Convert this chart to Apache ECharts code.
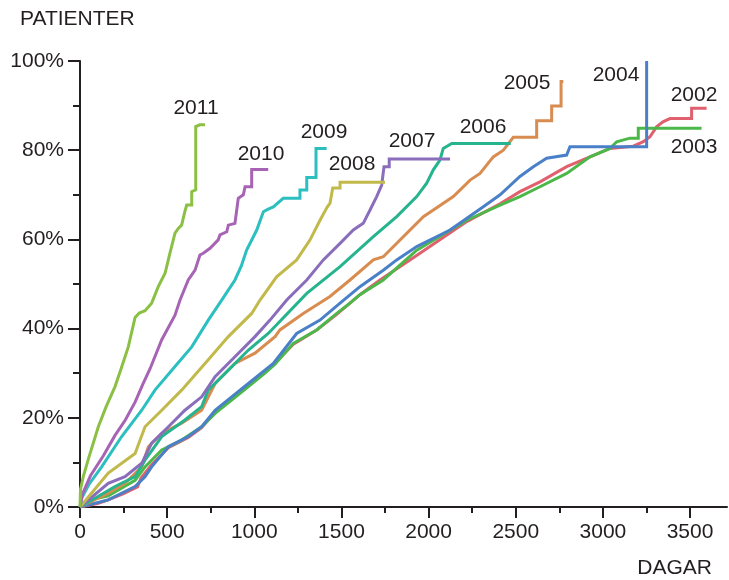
<!DOCTYPE html>
<html>
<head>
<meta charset="utf-8">
<script src="https://cdn.jsdelivr.net/npm/echarts@6/dist/echarts.min.js"></script>
<style>
html,body{margin:0;padding:0;background:#fff;}
#chart{width:729px;height:580px;}
</style>
</head>
<body>
<div id="chart"></div>
<script>
// ---- data (x = days, y = % patients) ----
const years = ['2002','2003','2004','2005','2006','2007','2008','2009','2010','2011'];
const xTicks = [0,500,1000,1500,2000,2500,3000,3500];
const xMinorTicks = [250,750,1250,1750,2250,2750,3250];

const d2002 = [[0,0],[100,0.8],[162,1.6],[250,3],[330,4.5],[350,6.5],[411,9.5],[507,13.3],[621,15.6],[698,17.8],[775,21.3],[870,24.4],[966,27.5],[1061,30.5],[1119,32.3],[1224,36.5],[1358,39.7],[1473,43.2],[1606,47.6],[1721,50.9],[1893,55.4],[2219,64],[2410,68],[2524,70.7],[2639,72.9],[2792,76.3],[2926,78.5],[3041,80.4],[3174,80.9],[3232,81.9],[3270,83],[3309,85.3],[3347,86.4],[3385,87.1],[3509,87.1],[3509,89.4],[3595,89.4]];
const d2003 = [[0,0],[50,1.5],[162,2.5],[316,6],[373,9],[469,12.8],[583,15],[698,18],[775,21],[870,24],[966,27],[1061,30],[1119,32],[1224,36.7],[1358,39.7],[1473,43.4],[1549,45.7],[1606,47.6],[1740,50.9],[1932,57.6],[2219,64.3],[2410,67.7],[2524,69.6],[2639,71.8],[2792,74.8],[2926,78.5],[3041,80.4],[3079,81.9],[3155,82.7],[3203,82.7],[3203,84.9],[3566,84.9]];
const d2004 = [[0,0],[162,1.6],[316,4.6],[373,6.8],[411,9],[507,13.5],[621,15.8],[698,18],[775,21.7],[870,24.7],[966,27.7],[1061,30.7],[1109,32.2],[1243,38.9],[1377,41.9],[1492,45.7],[1606,49.4],[1740,53.1],[1817,55.4],[1932,58.4],[2123,62.1],[2314,67.3],[2410,70],[2524,74.1],[2601,76.3],[2677,78.2],[2792,78.9],[2811,80.8],[3251,80.8],[3251,100]];
const d2005 = [[0,0],[162,3.1],[258,5.3],[354,9],[392,13.5],[469,16.5],[583,18.8],[698,21.7],[775,27.7],[889,32.2],[1004,34.5],[1119,38.2],[1147,39.7],[1281,43.4],[1434,47.2],[1549,50.9],[1683,55.4],[1740,56.1],[1970,65.1],[2142,69.6],[2238,73.3],[2295,74.8],[2371,78.5],[2429,80],[2486,82.9],[2620,82.9],[2620,86.6],[2706,86.6],[2706,89.9],[2760,89.9],[2760,95.4],[2773,95.4]];
const d2006 = [[0,0],[201,4.6],[316,6.8],[373,10.5],[469,15.8],[602,19.5],[698,22.5],[736,26.2],[851,30.7],[966,35.2],[1080,38.9],[1301,47.9],[1492,53.9],[1683,60.6],[1817,65.1],[1932,69.6],[1989,72.6],[2027,75.6],[2065,77.8],[2084,80.4],[2133,81.5],[2471,81.5]];
const d2007 = [[0,0],[162,5.3],[258,6.8],[354,9.8],[411,14.3],[507,18],[602,21.7],[698,24.7],[775,29.2],[889,33.7],[1004,38.2],[1090,41.9],[1186,46.4],[1301,50.9],[1396,55.4],[1492,59.1],[1568,62.1],[1625,63.6],[1664,66.6],[1702,69.6],[1731,72.2],[1744,76.3],[1774,76.3],[1774,78],[2123,78]];
const d2008 = [[0,0],[162,7.6],[316,12],[373,18],[469,21.7],[583,26.2],[736,33],[851,38.2],[985,43.4],[1033,46.4],[1128,51.6],[1243,55.4],[1320,59.9],[1377,64.3],[1419,67.3],[1434,68.1],[1450,71.5],[1492,71.5],[1492,72.8],[1750,72.8]];
const d2009 = [[0,0],[10,2],[50,5],[124,9],[239,15.8],[354,21.7],[430,26.2],[545,31.5],[641,35.9],[736,41.9],[813,46.4],[889,50.9],[925,54],[956,57.6],[1014,62.1],[1052,66.2],[1080,66.8],[1109,67.3],[1166,69.2],[1262,69.2],[1262,71.1],[1301,71.1],[1301,73.9],[1354,73.9],[1354,80.4],[1415,80.4]];
const d2010 = [[0,0],[15,3],[60,7],[134,11.5],[200,16],[260,19.5],[316,23.5],[360,27.5],[402,31],[469,37.5],[545,43],[574,46.4],[621,50.9],[660,53.1],[688,56.5],[707,56.9],[746,58],[793,59.9],[803,61],[842,61.7],[851,63.2],[889,63.6],[908,69.2],[937,70],[947,71.8],[985,71.8],[985,75.7],[1080,75.7]];
const d2011 = [[0,0],[3,4],[20,7],[50,11],[105,18],[150,22.5],[201,27],[240,31.5],[277,35.9],[316,42.5],[340,43.5],[373,44],[411,45.7],[449,49.4],[488,52.4],[516,56.9],[545,61.4],[565,62.5],[583,63.2],[600,66],[612,67.7],[641,67.7],[641,70.7],[664,71.1],[664,85.3],[688,85.7],[717,85.7]];

const seriesData = [d2002,d2003,d2004,d2005,d2006,d2007,d2008,d2009,d2010,d2011];
const colors = ['#e0606e','#4cb84a','#4a80c8','#d98c50','#26b48f','#8a6dbb','#c2b94b','#2cbfc0','#a764b4','#8cc045'];

// label anchor pixel positions (text centres)
const labelPos = {
  '2002':[694,95],'2003':[694,147],'2004':[616,75],'2005':[527,83],'2006':[483,127],
  '2007':[412,141],'2008':[352,164],'2009':[324,132],'2010':[261,154],'2011':[196,108]
};

const ink = '#231f20';
const font = '"Liberation Sans", Arial, sans-serif';
const chart = echarts.init(document.getElementById('chart'), null, {renderer:'canvas'});

const series = years.map((y,i)=>({
  name:y, type:'line', data:seriesData[i], showSymbol:false, symbol:'none',
  xAxisIndex:0,
  lineStyle:{color:colors[i], width:3, join:'miter'},
  itemStyle:{color:colors[i]}, z: 2, animation:false
}));

const graphics = years.map(y=>({
  type:'text', x:labelPos[y][0], y:labelPos[y][1],
  style:{text:y, fill:ink, font:'21px '+font, align:'center', verticalAlign:'middle'}
}));
graphics.push({type:'text', x:20, y:19, style:{text:'PATIENTER', fill:ink, font:'21px '+font, verticalAlign:'middle'}});
graphics.push({type:'text', x:712, y:568, style:{text:'DAGAR', fill:ink, font:'21px '+font, align:'right', verticalAlign:'middle'}});

chart.setOption({
  animation:false,
  backgroundColor:'#fff',
  grid:{left:80, right:2, top:61, bottom:73},
  xAxis:[{
    type:'value', min:0, max:3712, interval:500,
    axisLine:{show:true, lineStyle:{color:ink, width:2}},
    axisTick:{show:true, customValues:xTicks, length:11, lineStyle:{color:ink, width:2}},
    axisLabel:{customValues:xTicks, color:ink, fontSize:21, fontFamily:font, margin:15,
      formatter:function(v){return String(v);}},
    splitLine:{show:false}
  },{
    type:'value', min:0, max:3712, position:'bottom',
    axisLine:{show:false},
    axisTick:{show:true, customValues:xMinorTicks, length:6, lineStyle:{color:ink, width:2}},
    axisLabel:{show:false}, splitLine:{show:false}
  }],
  yAxis:{
    type:'value', min:0, max:100, interval:20,
    axisLine:{show:true, lineStyle:{color:ink, width:2}},
    axisTick:{show:true, length:12, lineStyle:{color:ink, width:2}},
    minorTick:{show:true, splitNumber:2, length:7, lineStyle:{color:ink, width:2}},
    axisLabel:{formatter:'{value}%', color:ink, fontSize:21, fontFamily:font, margin:16},
    splitLine:{show:false}
  },
  series: series,
  graphic: graphics
});
</script>
</body>
</html>
